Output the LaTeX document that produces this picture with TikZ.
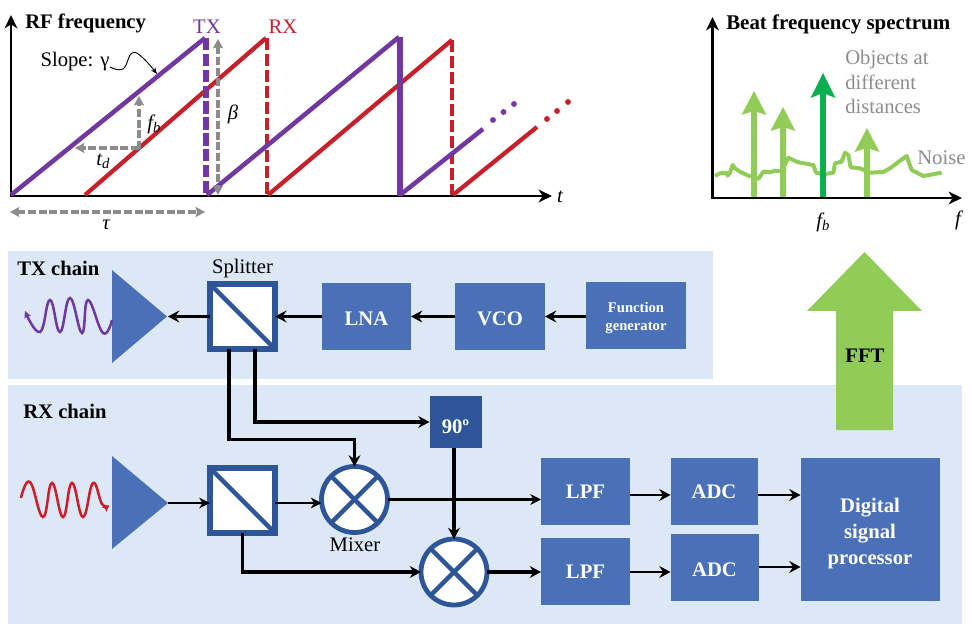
\documentclass[tikz,border=0pt]{standalone}
\usepackage{fontspec}
\setmainfont{Liberation Serif}
\usetikzlibrary{arrows.meta,calc}
\definecolor{panelc}{HTML}{DCE8F5}
\definecolor{blockc}{HTML}{4A70B7}
\definecolor{darkc}{HTML}{2E5597}
\definecolor{txc}{HTML}{7038A0}
\definecolor{rxc}{HTML}{C8202B}
\definecolor{graya}{HTML}{8C8C8C}
\definecolor{lgreen}{HTML}{92CC58}
\definecolor{dgreen}{HTML}{0BAF50}
\newcommand{\fnt}[1]{\fontsize{#1}{19.5}\selectfont}
\newcommand{\subb}{\raisebox{-2.5pt}{\fontsize{11}{11}\selectfont\itshape b}}
\tikzset{
  sized/.style n args={2}{minimum width=#1*0.75pt,minimum height=#2*0.75pt,inner sep=0pt,outer sep=0pt},
  panel/.style={fill=panelc,draw=none},
  block/.style={fill=blockc,draw=none,text=white,font=\fnt{15.5}\bfseries,align=center},
  darkblock/.style={fill=darkc,draw=none,text=white,font=\fnt{15.5}\bfseries,align=center},
  splitbox/.style={fill=white,draw=darkc,line width=4.2pt,minimum size=49pt,inner sep=0pt,outer sep=0pt},
  mixbox/.style={circle,fill=white,draw=darkc,line width=3.6pt,minimum size=49.5pt,inner sep=0pt,outer sep=0pt},
  inner/.style={draw=darkc,line width=3.4pt},
  amp/.style={fill=blockc,draw=none},
  tiparrow/.tip={Stealth[length=8.5pt,width=9pt,inset=3pt]},
  thickarr/.style={draw=black,line width=2.3pt,-{tiparrow}},
  midarr/.style={draw=black,line width=2.1pt,-{tiparrow}},
  thinarr/.style={draw=black,line width=1.6pt,-{Stealth[length=8pt,width=8pt,inset=2.5pt]}},
  txline/.style={draw=txc,line width=3.4pt},
  rxline/.style={draw=rxc,line width=3.2pt},
  txdash/.style={draw=txc,line width=4pt,dash pattern=on 9.3pt off 2.6pt},
  rxdash/.style={draw=rxc,line width=3.6pt,dash pattern=on 9.2pt off 2.8pt},
  grayarr/.style={draw=graya,line width=2.6pt,dash pattern=on 6pt off 2pt},
  graytip/.tip={Stealth[length=7pt,width=7.5pt,inset=1pt]},
  axis/.style={draw=black,line width=2.1pt,-{Stealth[length=10pt,width=9.5pt,inset=3pt]}},
  lbl/.style={font=\fnt{15.5},inner sep=0pt},
  title/.style={font=\fnt{15.5}\bfseries,inner sep=0pt,anchor=west},
  noiselbl/.style={font=\fnt{15.5},text=graya,inner sep=0pt},
  spike/.style={draw=lgreen,line width=3pt},
  spikehead/.style={fill=lgreen,draw=none},
}
\begin{document}
\begin{tikzpicture}[x=0.75pt,y=-0.75pt]
\useasboundingbox (0,0) rectangle (972,624);
% panels
\fill[panel] (8,251) rectangle (713,378.5);
\fill[panel] (8,384.5) rectangle (962,624);

% ---------- RF frequency plot
\draw[axis] (11,197) -- (11,15);
\draw[axis] (10,196) -- (552,196);
\node[title] (rft) at (25,23.5) {RF frequency};
\node[lbl,text=txc] (txl) at (207,27) {TX};
\node[lbl,text=rxc] (rxl) at (283,27) {RX};
\node[lbl,font=\fnt{15.5}\itshape] (tl) at (560,197) {t};
\node[lbl] (slope) at (75,62) {Slope: γ};
\draw[line width=0.7pt,-{Stealth[length=5pt,width=4pt]}] plot[smooth,tension=.7] coordinates {(110,67) (123,69) (132,53) (143,58) (157,74)};
\draw[rxline] (85,195) -- (266,38);
\draw[rxdash] (267,38) -- (267,195);
\draw[rxline] (268,195) -- (452,40);
\draw[rxdash] (452,40) -- (452,195);
\draw[rxline] (453,195) -- (537,127);
\foreach \px/\py in {547/119,557/111,568/102} \fill[rxc] (\px,\py) circle[radius=2.2pt];
\draw[txline] (11,195) -- (205,38);
\draw[txdash] (206,38) -- (206,195);
\draw[txline] (207,195) -- (399,37);
\draw[draw=txc,line width=4pt] (400,37) -- (400,196);
\draw[txline] (400,195) -- (483,129);
\foreach \px/\py in {493/120,503.5/112,514/104} \fill[txc] (\px,\py) circle[radius=2.2pt];
\draw[grayarr,-{graytip}] (139,149) -- (139,96);
\draw[grayarr,-{graytip}] (139,148) -- (75,148);
\draw[grayarr,{graytip}-{graytip}] (218,39) -- (218,195);
\draw[grayarr,{graytip}-{graytip}] (10,212) -- (205,212);
\node[lbl,font=\fnt{15.5}\itshape] (fbl) at (154,124) {f\subb};
\node[lbl,font=\fnt{15.5}\itshape] (bl) at (233,114) {β};
\node[lbl,font=\fnt{15.5}\itshape] (tdl) at (103,161) {t\raisebox{-2.5pt}{\fontsize{11}{11}\selectfont d}};
\node[lbl,font=\fnt{15.5}\itshape] (taul) at (106,225) {τ};

% ---------- Beat frequency plot
\draw[axis] (712.5,199) -- (712.5,17);
\draw[axis] (712,198) -- (962,198);
\node[title,font=\fnt{15.7}\bfseries] (bft) at (726,24) {Beat frequency spectrum};
\begin{scope}[shift={(680,0)},x=0.25pt,y=-0.25pt]
\draw[spike,line join=round] plot coordinates {(105,528) (120,520) (140,518) (143,527) (150,518) (158,495) (165,505) (180,515) (205,527) (220,530) (235,537) (250,515) (270,517) (285,512) (305,514) (325,473) (345,483) (360,488) (400,495) (408,518) (430,523) (460,518) (465,490) (485,485) (495,458) (505,465) (512,502) (540,505) (570,518) (610,516) (630,505) (650,490) (680,468) (695,510) (730,528) (785,518)};
\end{scope}
\foreach \sx/\st in {754/91,783/107,867/128} {
  \draw[spike,line width=4.2pt] (\sx,197) -- (\sx,\st+20);
  \fill[spikehead] (\sx,\st) -- (\sx+12.5,\st+24) -- (\sx,\st+20) -- (\sx-12.5,\st+24) -- cycle;
}
\draw[draw=dgreen,line width=4.2pt] (823,197) -- (823,93);
\fill[dgreen] (823,73) -- (835.5,98) -- (823,93) -- (810.5,98) -- cycle;
\node[noiselbl,anchor=base west] (obj1) at (845,65) {Objects at};
\node[noiselbl,anchor=base west] (obj2) at (845,90) {different};
\node[noiselbl,anchor=base west] (obj3) at (845,114) {distances};
\node[noiselbl,anchor=west] (noi) at (917,158) {Noise};
\node[lbl,font=\fnt{15.5}\itshape] (fbx) at (823,222) {f\subb};
\node[lbl,font=\fnt{15.5}\itshape] (fx) at (958,220) {f};

% ---------- FFT arrow
\fill[lgreen] (864.5,252) -- (922,311) -- (893,311) -- (893,430) -- (836,430) -- (836,311) -- (807,311) -- cycle;
\node[lbl,font=\fnt{15.5}\bfseries] (fft) at (865,356) {FFT};

% ---------- nodes of TX chain
\node[title] (txt) at (17,268) {TX chain};
\node[title] (rxt) at (23,411) {RX chain};
\node[lbl] (splt) at (242.5,269) {Splitter};
\fill[amp] (112,270) -- (167,316.5) -- (112,363) -- cycle;
\coordinate (txamp) at (168,316.5);
\node[splitbox] (s1) at (242.5,316.5) {};
\node[block,sized={89}{67}] (lna) at (366.5,316.5) {\rule{0pt}{13.5pt}LNA};
\node[block,sized={90}{67}] (vco) at (500,316.5) {\rule{0pt}{13.5pt}VCO};
\node[block,sized={100}{67},font=\fontsize{11}{13.5}\selectfont\bfseries] (fg) at (636,315.5) {\rule{0pt}{11pt}Function\\generator};
\draw[inner] (s1.north west) -- (s1.south east);

% ---------- nodes of RX chain
\fill[amp] (112,456) -- (168,503) -- (112,549) -- cycle;
\coordinate (rxamp) at (168,503);
\node[splitbox] (s2) at (242.5,500.5) {};
\draw[inner] (s2.north west) -- (s2.south east);
\node[darkblock,sized={52}{52}] (ph) at (455.5,422) {\rule{0pt}{17pt}90º};
\node[mixbox] (m1) at (354.5,499.5) {};
\draw[inner] (m1.north west) -- (m1.south east);
\draw[inner] (m1.north east) -- (m1.south west);
\node[lbl] (mxl) at (355,545) {Mixer};
\node[mixbox] (m2) at (454,572) {};
\draw[inner] (m2.north west) -- (m2.south east);
\draw[inner] (m2.north east) -- (m2.south west);
\node[block,sized={89}{67}] (lpf1) at (585.5,491.5) {LPF};
\node[block,sized={87}{67}] (adc1) at (714,491.5) {ADC};
\node[block,sized={89}{67}] (lpf2) at (585.5,571.5) {LPF};
\node[block,sized={88}{67}] (adc2) at (714.5,567.5) {\rule{0pt}{13pt}ADC};
\node[block,sized={139}{143},text width=90pt,font=\fontsize{15.5}{19.5}\selectfont\bfseries] (dsp) at (870,529.5) {\rule{0pt}{17pt}Digital\\signal\\processor};

% ---------- connectors
\draw[thickarr] (fg.west |- vco.east) -- (vco.east);
\draw[thickarr] (vco.west) -- (lna.east);
\draw[thickarr] (lna.west) -- (s1.east);
\draw[thickarr] (s1.west) -- (txamp);
\coordinate (s1a) at ($(s1.south)+(-13.5,0)$);
\coordinate (s1b) at ($(s1.south)+(12.5,0)$);
\coordinate (lm) at (353.5,439.5);
\draw[thickarr] (s1a) |- (m1.north |- lm) -- (m1.north);
\coordinate (lp) at (0,422);
\draw[thickarr] (s1b) |- (ph.west |- lp);
\draw[thickarr] (m2.north |- ph.south) -- (m2.north);
\draw[thinarr] (rxamp) -- (rxamp -| s2.west);
\draw[thinarr] (rxamp -| s2.east) -- (rxamp -| m1.west);
\draw[thinarr] (m1.east) -- (m1.east -| lpf1.west);
\draw[thickarr] (s2.south) |- (m2.west);
\draw[thickarr] (m2.east) -- (m2.east -| lpf2.west);
\coordinate (la) at (0,495);
\draw[midarr] (lpf1.east |- la) -- (adc1.west |- la);
\draw[midarr] (adc1.east |- la) -- (dsp.west |- la);
\coordinate (lb) at (0,572);
\draw[midarr] (lpf2.east |- lb) -- (adc2.west |- lb);
\coordinate (lc) at (0,567);
\draw[midarr] (adc2.east |- lc) -- (dsp.west |- lc);

% ---------- waves
\draw[draw=txc,line width=1.9pt,-{Stealth[length=5pt,width=5pt,inset=1pt]}] plot[smooth,tension=.75] coordinates {(112,320) (103,333) (88,300) (82,333) (70,298) (60,332) (50,300) (40,332) (25,311)};
\draw[draw=rxc,line width=1.9pt,-{Stealth[length=5pt,width=5pt,inset=1pt]}] plot[smooth,tension=.75] coordinates {(21,498) (30,482) (43,517) (52,483) (63,517) (72,483) (83,517) (93,483) (102,504) (109,505)};
\end{tikzpicture}
\end{document}
